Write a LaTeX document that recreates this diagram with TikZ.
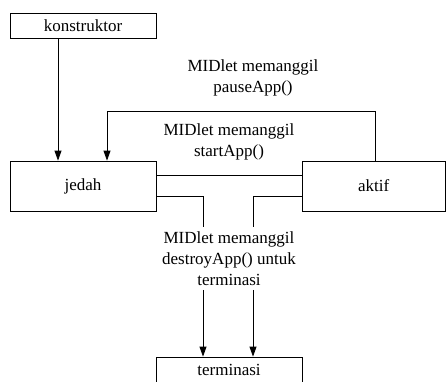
\documentclass[tikz,border=0pt]{standalone}
\usepackage{fontspec}
\setmainfont{Liberation Serif}
\usetikzlibrary{arrows.meta}

\begin{document}
\begin{tikzpicture}[x=1pt, y=-1pt, line width=0.8pt,
      every node/.append style={font=\fontsize{17}{21}\selectfont, inner sep=0pt},
      arr/.style={-{Triangle[length=10pt,width=7pt]}}]
    \tikzstyle{state} = [draw, rectangle, minimum width=146pt]
    \tikzstyle{word} = [align=center, inner sep=4pt]
    \useasboundingbox (0,0) rectangle (446,381);
    \node [state, minimum height=25pt] (konstruktor) at (83,25.5) {konstruktor};
    \node [state, minimum height=50pt] (jedah) at (83,186) {jedah};
    \node [state, minimum height=50pt, minimum width=143.5pt] (aktif) at (373.75,186) {aktif};
    \node [state, minimum height=26pt] (terminasi) at (229,370) {terminasi};
    \node [word] (pause) at (253,78) {MIDlet memanggil\\pauseApp()};
    \node [word] (start) at (229,142) {MIDlet memanggil\\startApp()};
    \node [word] (destroy) at (229,258.5) {MIDlet memanggil\\destroyApp() untuk\\terminasi};
    \draw[arr] ([xshift=-25pt]konstruktor.south) -- ([xshift=-25pt]jedah.north);
    \draw[arr] ([xshift=1.25pt]aktif.north) -- ++(0,-49) -| ([xshift=24pt]jedah.north);
    \draw ([yshift=11pt]jedah.east) -- ([yshift=11pt]aktif.west);
    \draw ([yshift=-10pt]jedah.east) -| ([xshift=-26pt]destroy.north);
    \draw ([yshift=-10pt]aktif.west) -| ([xshift=24pt]destroy.north);
    \draw[arr] ([xshift=-26pt]destroy.south) -- ([xshift=-26pt]terminasi.north);
    \draw[arr] ([xshift=24pt]destroy.south) -- ([xshift=24pt]terminasi.north);
\end{tikzpicture}
\end{document}
